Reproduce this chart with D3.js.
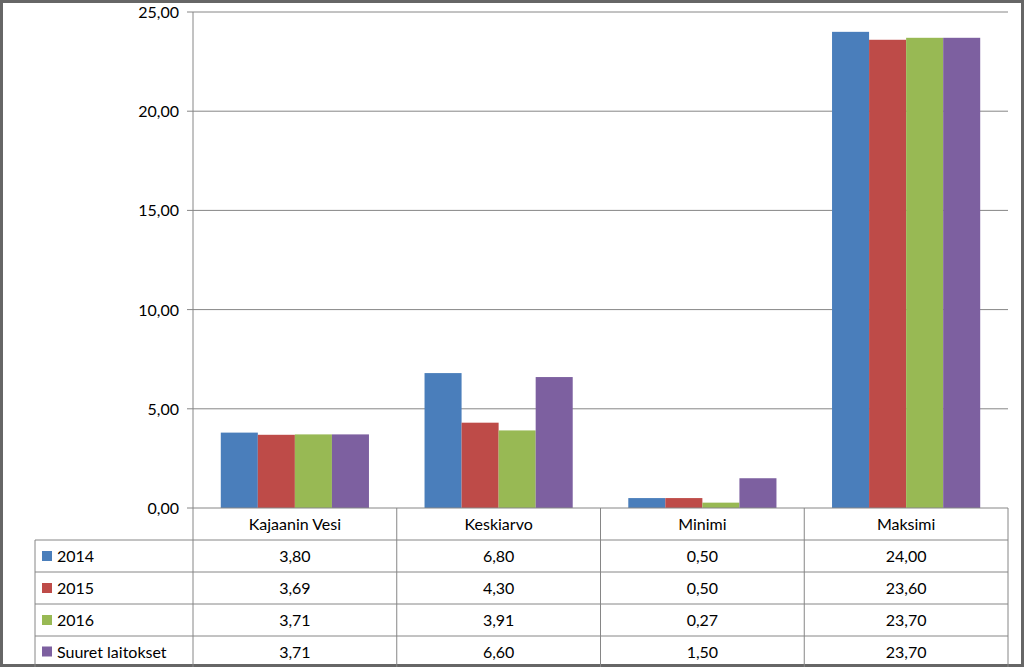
<!DOCTYPE html>
<html><head><meta charset="utf-8">
<script src="https://cdn.jsdelivr.net/npm/d3@7"></script>
<style>body{margin:0;background:#fff}text{font-family:Lato,"Open Sans",sans-serif;font-size:16px;fill:#000}</style>
</head><body>
<script>
const categories = ["Kajaanin Vesi", "Keskiarvo", "Minimi", "Maksimi"];
const seriesNames = ["2014", "2015", "2016", "Suuret laitokset"];
const v2014 = [3.80, 6.80, 0.50, 24.00];
const v2015 = [3.69, 4.30, 0.50, 23.60];
const v2016 = [3.71, 3.91, 0.27, 23.70];
const vSuuret = [3.71, 6.60, 1.50, 23.70];
const yTicks = [0, 5, 10, 15, 20, 25];
const colors = ["#4a7ebb", "#be4b48", "#98b954", "#7d60a0"];
const series = [v2014, v2015, v2016, vSuuret];

const W = 1024, H = 667;
const L = 193, R = 1008, T = 12, B = 508;
const svg = d3.select("body").append("svg").attr("width", W).attr("height", H);
svg.append("rect").attr("x", 1.5).attr("y", 1.5).attr("width", W - 3).attr("height", H - 3)
  .attr("fill", "#fff").attr("stroke", "#666").attr("stroke-width", 3);

const x = d3.scaleBand().domain(categories).range([L, R]);
const xi = d3.scaleBand().domain(d3.range(4)).range([0, x.bandwidth()]).paddingInner(0).paddingOuter(0.375 * 2 / 2 * 2 / 2);
const y = d3.scaleLinear().domain([0, 25]).range([B, T]);

svg.append("g").selectAll("line").data(yTicks.slice(1)).join("line")
  .attr("x1", L).attr("x2", R).attr("y1", d => y(d)).attr("y2", d => y(d))
  .attr("stroke", "#868686");
svg.append("g").selectAll("text").data(yTicks).join("text")
  .attr("x", L - 14).attr("y", d => y(d) + 6).attr("text-anchor", "end")
  .text(d => d3.format(".2f")(d).replace(".", ","));
svg.append("g").selectAll("line").data(yTicks).join("line")
  .attr("x1", L - 6).attr("x2", L).attr("y1", d => y(d)).attr("y2", d => y(d)).attr("stroke", "#868686");

// bars: group width 148 of 204 -> outer padding
const inner = d3.scaleBand().domain(d3.range(4)).range([0, x.bandwidth()]).paddingOuter(0.75);
series.forEach((s, i) => {
  svg.append("g").selectAll("rect").data(s).join("rect")
    .attr("x", (d, j) => x(categories[j]) + inner(i))
    .attr("width", inner.bandwidth())
    .attr("y", d => y(d)).attr("height", d => B - y(d))
    .attr("fill", colors[i]);
});

svg.append("line").attr("x1", L).attr("x2", L).attr("y1", T).attr("y2", B).attr("stroke", "#868686");

// data table
const rowY = [B, 540, 572, 604, 636, 667];
const g = svg.append("g").attr("stroke", "#868686");
g.append("line").attr("x1", L).attr("x2", R).attr("y1", B).attr("y2", B);
rowY.slice(1, 5).forEach(r => g.append("line").attr("x1", 35).attr("x2", R).attr("y1", r).attr("y2", r));
g.append("line").attr("x1", 35).attr("x2", 35).attr("y1", 540).attr("y2", H);
categories.forEach(c => g.append("line").attr("x1", x(c) + x.bandwidth()).attr("x2", x(c) + x.bandwidth()).attr("y1", B).attr("y2", H));
g.append("line").attr("x1", L).attr("x2", L).attr("y1", B).attr("y2", H);

svg.append("g").selectAll("text").data(categories).join("text")
  .attr("x", d => x(d) + x.bandwidth() / 2).attr("y", 530).attr("text-anchor", "middle").text(d => d);

series.forEach((s, i) => {
  const cy = (rowY[i + 1] + rowY[i + 2]) / 2;
  svg.append("rect").attr("x", 42).attr("y", cy - 5).attr("width", 10).attr("height", 10).attr("fill", colors[i]);
  svg.append("text").attr("x", 57).attr("y", cy + 6).text(seriesNames[i]);
  svg.append("g").selectAll("text").data(s).join("text")
    .attr("x", (d, j) => x(categories[j]) + x.bandwidth() / 2).attr("y", cy + 6)
    .attr("text-anchor", "middle").text(d => d3.format(".2f")(d).replace(".", ","));
});
</script>
</body></html>
